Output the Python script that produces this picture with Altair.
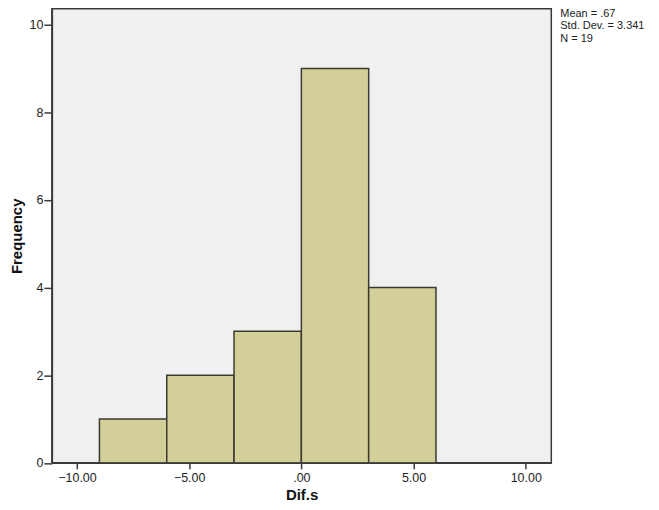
import altair as alt
import pandas as pd

bin_start = [-9, -6, -3, 0, 3]
bin_end = [-6, -3, 0, 3, 6]
counts = [1, 2, 3, 9, 4]
x_ticks = [-10, -5, 0, 5, 10]
y_ticks = [0, 2, 4, 6, 8, 10]
stats_lines = ["Mean = .67", "Std. Dev. = 3.341", "N = 19"]

df = pd.DataFrame({"start": bin_start, "end": bin_end, "count": counts})
stats = pd.DataFrame({"line": stats_lines, "i": list(range(len(stats_lines)))})

FONT = "Liberation Sans"

bars = alt.Chart(df).mark_rect(
    fill="#d3cf98", stroke="#3a3a30", strokeWidth=1.5, clip=True
).encode(
    x=alt.X("start:Q",
            scale=alt.Scale(domain=[-11.12, 11.14], nice=False, zero=False),
            axis=alt.Axis(values=x_ticks, title="Dif.s", grid=False,
                          labelExpr="datum.value == 0 ? '.00' : format(datum.value, '.2f')",
                          tickSize=6, labelPadding=3, titlePadding=3)),
    x2="end:Q",
    y=alt.Y("count:Q",
            scale=alt.Scale(domain=[0, 10.36], nice=False),
            axis=alt.Axis(values=y_ticks, title="Frequency", grid=False,
                          tickSize=8, labelPadding=1, titlePadding=5, format="d")),
    y2=alt.datum(0),
)

text = alt.Chart(stats).mark_text(
    align="left", baseline="middle", font=FONT, fontSize=11, color="#222222", clip=False
).encode(
    x=alt.value(510),
    y=alt.Y("i:Q", scale=alt.Scale(domain=[0, 2], range=[5, 30]), axis=None),
    text="line:N",
)

chart = alt.layer(bars, text).resolve_scale(y="independent").properties(
    width=501, height=455.5,
    autosize=alt.AutoSizeParams(type="none"),
    padding={"left": 44, "top": 0, "right": 100, "bottom": 45},
).configure_view(
    fill="#f0f0f0", stroke="#3a3a3a", strokeWidth=1.5
).configure_axis(
    domainColor="#3a3a3a", tickColor="#3a3a3a", domainWidth=1.5, tickWidth=1.5,
    labelFont=FONT, titleFont=FONT, labelFontSize=12.5, titleFontSize=15,
    labelColor="#222222", titleColor="#111111", titleFontWeight="bold",
)

chart.save("out.html", embed_options={"renderer": "svg", "actions": False})
